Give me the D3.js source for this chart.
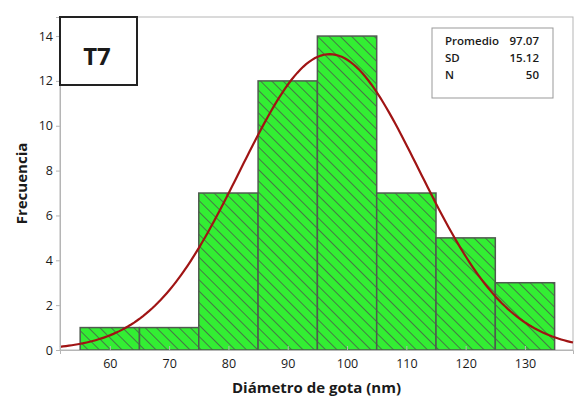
<!DOCTYPE html>
<html>
<head>
<meta charset="utf-8">
<script src="https://cdn.jsdelivr.net/npm/d3@7"></script>
<style>
  body { margin: 0; background: #fff; }
  text { font-family: "Open Sans", "Noto Sans", sans-serif; fill: #1a1a1a; }
</style>
</head>
<body>
<script>
// histogram bins (lower edge) and counts
var binStarts = [55, 65, 75, 85, 95, 105, 115, 125];
var binWidth = 10;
var counts = [1, 1, 7, 12, 14, 7, 5, 3];
var xTicks = [60, 70, 80, 90, 100, 110, 120, 130];
var yTicks = [0, 2, 4, 6, 8, 10, 12, 14];
var statLabels = ["Promedio", "SD", "N"];
var statValues = ["97.07", "15.12", "50"];
var mean = 97.07, sd = 15.12, n = 50;

var svg_width = 585, svg_height = 405;
var margin = { top: 17, right: 12, bottom: 55, left: 60 };
var width = svg_width - margin.left - margin.right;
var height = svg_height - margin.top - margin.bottom;

var svg = d3.select("body").append("svg")
  .attr("width", svg_width)
  .attr("height", svg_height);

var defs = svg.append("defs");
var pat = defs.append("pattern")
  .attr("id", "hatch")
  .attr("patternUnits", "userSpaceOnUse")
  .attr("width", 8).attr("height", 8)
  .attr("patternTransform", "rotate(-45)");
pat.append("rect").attr("width", 8).attr("height", 8).attr("fill", "#33ee33");
pat.append("line")
  .attr("x1", 0).attr("y1", 0).attr("x2", 0).attr("y2", 8)
  .attr("stroke", "#4a5a4a").attr("stroke-width", 1.6);

var chartGroup = svg.append("g")
  .attr("transform", `translate(${margin.left}, ${margin.top})`);

var x = d3.scaleLinear().domain([51.6, 138.1]).range([0, width]);
var y = d3.scaleLinear().domain([0, 14.85]).range([height, 0]);

// frame
chartGroup.append("rect")
  .attr("width", width).attr("height", height)
  .attr("fill", "none").attr("stroke", "#b5b5b5").attr("stroke-width", 1);

// bars
chartGroup.selectAll("rect.bar")
  .data(counts)
  .enter()
  .append("rect")
  .attr("class", "bar")
  .attr("x", (d, i) => x(binStarts[i]))
  .attr("y", d => y(d))
  .attr("width", (d, i) => x(binStarts[i] + binWidth) - x(binStarts[i]))
  .attr("height", d => y(0) - y(d))
  .attr("fill", "url(#hatch)")
  .attr("stroke", "#505a50")
  .attr("stroke-width", 1.5);

// fitted normal curve from the shown stats
var xs = d3.range(x.domain()[0], x.domain()[1] + 0.01, 0.5);
var line = d3.line()
  .x(d => x(d))
  .y(d => y(n * binWidth * Math.exp(-0.5 * Math.pow((d - mean) / sd, 2)) / (sd * Math.sqrt(2 * Math.PI))));
chartGroup.append("path")
  .datum(xs)
  .attr("d", line)
  .attr("fill", "none")
  .attr("stroke", "#a01414")
  .attr("stroke-width", 2.2);

// axes
var bottomAxis = d3.axisBottom(x).tickValues(xTicks).tickSize(4).tickPadding(5);
var leftAxis = d3.axisLeft(y).tickValues(yTicks).tickSize(4).tickPadding(3);

var gx = chartGroup.append("g")
  .attr("transform", `translate(0, ${height})`)
  .call(bottomAxis);
var gy = chartGroup.append("g").call(leftAxis);
[gx, gy].forEach(function(g) {
  g.select(".domain").attr("stroke", "#b5b5b5");
  g.selectAll(".tick line").attr("stroke", "#b5b5b5");
  g.selectAll(".tick text")
    .style("font-family", "'Open Sans', sans-serif")
    .style("font-size", "12.5px")
    .style("font-weight", "500")
    .attr("fill", "#111");
});
gx.selectAll(".tick line").attr("y2", -4);
gy.selectAll(".tick line").attr("x2", -4);

// T7 label box
chartGroup.append("rect")
  .attr("x", 0).attr("y", 0).attr("width", 77).attr("height", 68)
  .attr("fill", "#fff").attr("stroke", "#222").attr("stroke-width", 2);
chartGroup.append("text")
  .attr("x", 37).attr("y", 48)
  .attr("text-anchor", "middle")
  .style("font-size", "24px").style("font-weight", "bold")
  .text("T7");

// stats box
var lg = svg.append("g").attr("transform", "translate(432, 28)");
lg.append("rect")
  .attr("width", 121).attr("height", 70)
  .attr("fill", "#fff").attr("stroke", "#999").attr("stroke-width", 1);
lg.selectAll("text.lab")
  .data(statLabels)
  .enter().append("text")
  .attr("class", "lab")
  .attr("x", 13)
  .attr("y", (d, i) => 17 + i * 17)
  .style("font-size", "11.5px").style("font-weight", "600")
  .text(d => d);
lg.selectAll("text.val")
  .data(statValues)
  .enter().append("text")
  .attr("class", "val")
  .attr("x", 107)
  .attr("y", (d, i) => 17 + i * 17)
  .attr("text-anchor", "end")
  .style("font-size", "11.5px").style("font-weight", "600")
  .text(d => d);

// axis titles
svg.append("text")
  .attr("transform", "rotate(-90)")
  .attr("x", -(margin.top + height / 2))
  .attr("y", 27)
  .attr("text-anchor", "middle")
  .style("font-size", "15px").style("font-weight", "bold")
  .text("Frecuencia");

svg.append("text")
  .attr("x", margin.left + width / 2)
  .attr("y", 393)
  .attr("text-anchor", "middle")
  .style("font-size", "15px").style("font-weight", "bold")
  .text("Diámetro de gota (nm)");
</script>
</body>
</html>
